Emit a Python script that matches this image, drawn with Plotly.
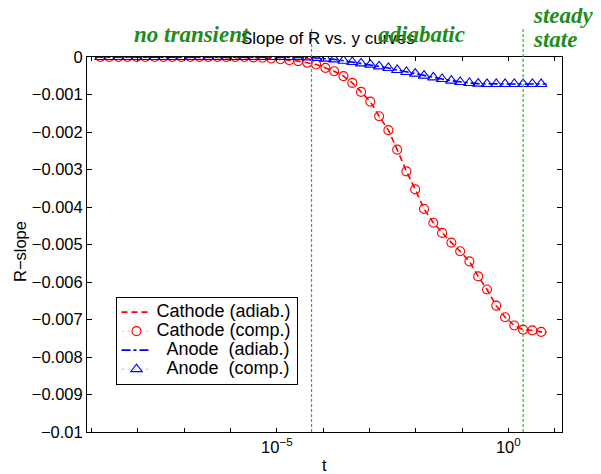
import plotly.graph_objects as go

# log10(t) sampling grid of the computed (marker) series
log_t = [-8.81, -8.62, -8.42, -8.23, -8.03, -7.84, -7.64, -7.45, -7.26, -7.06,
         -6.87, -6.67, -6.48, -6.28, -6.09, -5.90, -5.70, -5.51, -5.31, -5.12,
         -4.92, -4.73, -4.54, -4.34, -4.15, -3.95, -3.76, -3.56, -3.37, -3.18,
         -2.98, -2.79, -2.59, -2.40, -2.20, -2.01, -1.82, -1.62, -1.43, -1.23,
         -1.04, -0.84, -0.65, -0.46, -0.26, -0.07, 0.13, 0.32, 0.52, 0.71]

cathode_comp = [0, 0, 0, 0, 0, 0, 0, 0, 0, 0,
                0, 0, 0, 0, 0, 0, 0, -0.00001, -0.00002, -0.00004,
                -0.00006, -0.000085, -0.00011, -0.000155, -0.0002, -0.00029, -0.00038, -0.00051, -0.00069, -0.00093,
                -0.00119, -0.00158, -0.00195, -0.00247, -0.00305, -0.00353, -0.00405, -0.00442, -0.00469, -0.00495,
                -0.00518, -0.00545, -0.00585, -0.0062, -0.00663, -0.00694, -0.00716, -0.00727, -0.00729, -0.00733]

anode_comp = [0, 0, 0, 0, 0, 0, 0, 0, 0, 0,
              0, 0, 0, 0, 0, 0, 0, 0, 0, 0,
              0, 0, 0, -0.00001, -0.000027, -0.000044, -0.000062, -0.000098, -0.000133, -0.000169,
              -0.000204, -0.000249, -0.000293, -0.000347, -0.0004, -0.000444, -0.000498, -0.000542, -0.000587, -0.000631,
              -0.000667, -0.000693, -0.000711, -0.00072, -0.00072, -0.00072, -0.00072, -0.00072, -0.00072, -0.00072]

# adiabatic (line) series: slightly longer t span than the markers
log_t_line = [-8.93] + log_t + [0.83]
cathode_adiab = [0] + cathode_comp + [-0.00733]
anode_adiab = [0] + anode_comp + [-0.00072]

t_marks = [10 ** v for v in log_t]
t_line = [10 ** v for v in log_t_line]

# vertical regime separators (log10 t)
regime_lines = [-4.25, 0.32]

x_major_exp = [-5, 0]
x_major_text = ["10<sup>\u22125</sup>", "10<sup>0</sup>"]
x_minor_exp = [-9, -8, -7, -6, -4, -3, -2, -1, 1]
y_tick_vals = [0, -0.001, -0.002, -0.003, -0.004, -0.005, -0.006, -0.007, -0.008, -0.009, -0.01]
y_tick_text = ["0", "\u22120.001", "\u22120.002", "\u22120.003", "\u22120.004", "\u22120.005",
               "\u22120.006", "\u22120.007", "\u22120.008", "\u22120.009", "\u22120.01"]

SANS = "Liberation Sans, Arial, sans-serif"
SERIF = "Liberation Serif, Times New Roman, serif"
GREEN_TXT = "rgb(30,140,30)"
GREEN_LINE = "rgb(50,175,50)"


def leg(name):
    return '<span style="font-size:18px">' + name + "</span>"


fig = go.Figure()
fig.add_trace(go.Scatter(x=t_line, y=cathode_adiab, mode="lines", name=leg("Cathode (adiab.)"),
                         line=dict(color="red", width=1.6, dash="6px,4px")))
fig.add_trace(go.Scatter(x=t_marks, y=cathode_comp, mode="lines+markers", name=leg("Cathode (comp.)"),
                         line=dict(color="rgba(255,0,0,0.45)", width=0.6, dash="dot"),
                         marker=dict(symbol="circle-open", size=9, color="red", line=dict(width=1.1))))
fig.add_trace(go.Scatter(x=t_line, y=anode_adiab, mode="lines", name=leg("\u00a0\u00a0Anode\u00a0\u00a0(adiab.)"),
                         line=dict(color="blue", width=1.6, dash="dashdot")))
fig.add_trace(go.Scatter(x=t_marks, y=anode_comp, mode="lines+markers", name=leg("\u00a0\u00a0Anode\u00a0\u00a0(comp.)"),
                         line=dict(color="rgba(0,0,255,0.45)", width=0.6, dash="dot"),
                         marker=dict(symbol="triangle-up-open", size=10, color="blue", line=dict(width=1.1))))

for xv in regime_lines:
    fig.add_shape(type="line", xref="x", yref="paper", x0=10 ** xv, x1=10 ** xv, y0=0, y1=1.075,
                  line=dict(color=GREEN_LINE, width=1.2, dash="3px,2px"), layer="above")

green_font = dict(family=SERIF, size=23, color=GREEN_TXT, weight="bold", style="italic")
for txt, xv, yv in [("no transient", -8.13, 1.059), ("adiabatic", -2.86, 1.059),
                    ("steady", 0.49, 1.110), ("state", 0.49, 1.046)]:
    fig.add_annotation(text=txt, xref="x", yref="paper", x=xv, y=yv, xanchor="left", yanchor="middle",
                       showarrow=False, font=green_font)

fig.add_annotation(text="R\u2212slope", xref="paper", yref="paper", x=-0.141, y=0.48, textangle=-90,
                   xanchor="center", yanchor="middle", showarrow=False, font=dict(family=SANS, size=16.5, color="black"))
fig.add_annotation(text="t", xref="paper", yref="paper", x=0.5, y=-0.088,
                   xanchor="center", yanchor="middle", showarrow=False, font=dict(family=SANS, size=16.5, color="black"))

fig.update_layout(
    width=601, height=474,
    margin=dict(l=79, r=47, t=49, b=50),
    paper_bgcolor="white", plot_bgcolor="white",
    font=dict(family=SANS, size=16, color="black"),
    title=dict(text="Slope of R vs. y curves", x=0.507, xref="paper", xanchor="center",
               y=1 - 30 / 474, yref="container", yanchor="middle",
               font=dict(family=SANS, size=17, color="black")),
    showlegend=True,
    legend=dict(x=0.06, y=0.361, xanchor="left", yanchor="top", bgcolor="white",
                bordercolor="black", borderwidth=1, font=dict(family=SANS, size=12, color="black"),
                tracegroupgap=0),
)
fig.update_xaxes(type="log", range=[-9.1, 1.16], tickmode="array",
                 tickvals=[10 ** e for e in x_major_exp], ticktext=x_major_text,
                 minor=dict(tickmode="array", tickvals=[10 ** e for e in x_minor_exp], ticks="inside",
                            ticklen=4, tickcolor="black", showgrid=False),
                 ticks="inside", ticklen=4, tickcolor="black", showline=True, linecolor="black", linewidth=1,
                 mirror="ticks", showgrid=False, zeroline=False, automargin=False,
                 tickfont=dict(family=SANS, size=16.5, color="black"))
fig.update_yaxes(range=[-0.01, 0], tickvals=y_tick_vals, ticktext=y_tick_text,
                 ticks="inside", ticklen=5, tickcolor="black", showline=True, linecolor="black", linewidth=1,
                 mirror="ticks", showgrid=False, zeroline=False, automargin=False,
                 tickfont=dict(family=SANS, size=16.5, color="black"))

fig.write_html("out.html")
